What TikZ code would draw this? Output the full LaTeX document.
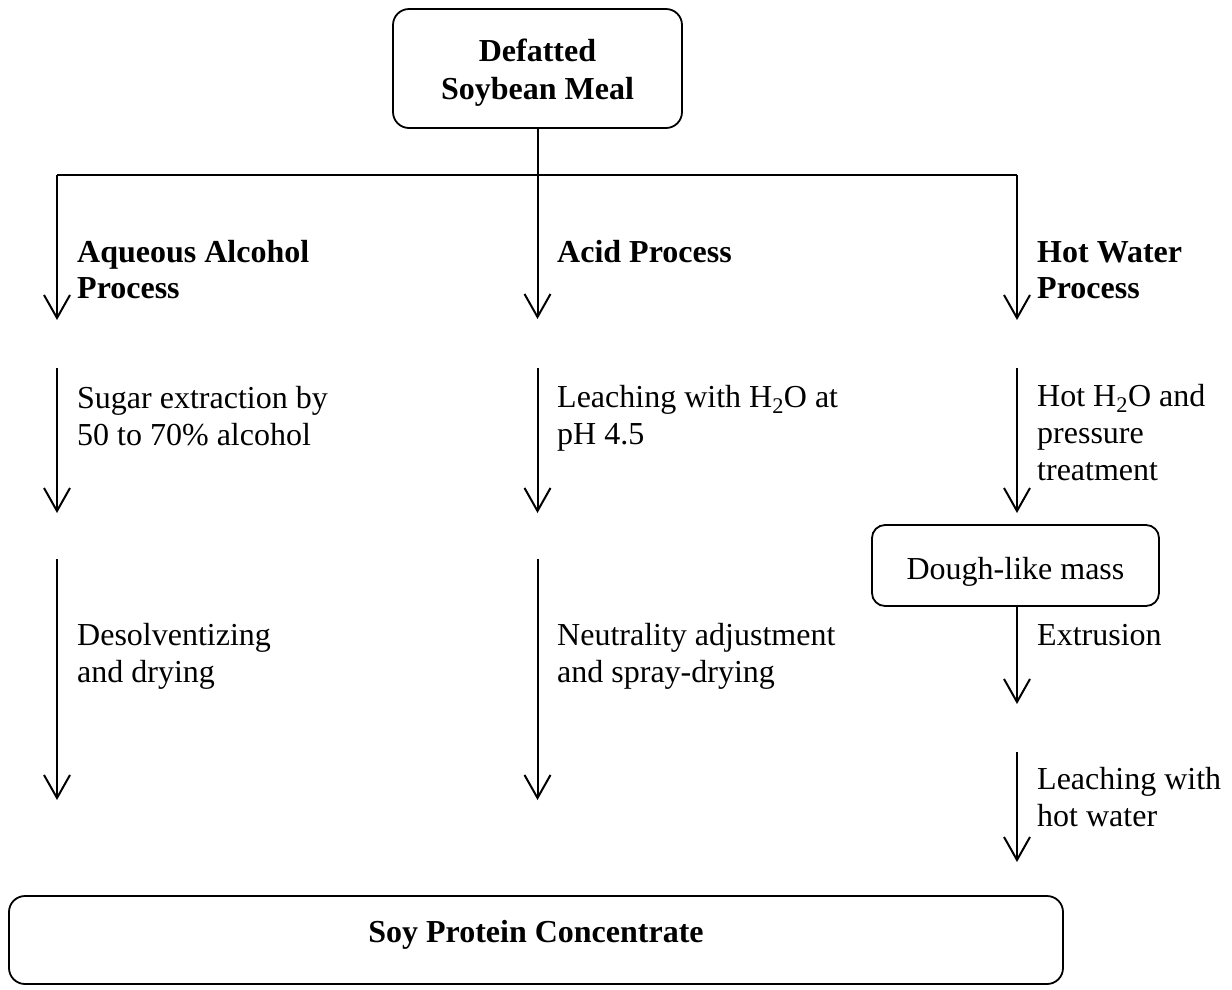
\documentclass[tikz,border=0pt]{standalone}
\usepackage{fontspec}
\setmainfont{Liberation Serif}
\usetikzlibrary{arrows.meta}
\tikzset{
  box/.style={draw=black, line width=1.8pt, rounded corners=16pt, inner sep=0pt, align=center},
  lbl/.style={anchor=base west, inner sep=0pt, align=left, font=\fontsize{32}{37}\selectfont},
  hdr/.style={anchor=base west, inner sep=0pt, align=left, font=\fontsize{32}{35.5}\selectfont\bfseries},
  flow/.style={draw=black, line width=2pt, -{Straight Barb[length=23pt,width=26pt]}},
  link/.style={draw=black, line width=2pt},
}
\begin{document}
\begin{tikzpicture}[x=1pt,y=-1pt]
\useasboundingbox (0,0) rectangle (1232,989);
% boxes
\node[box, minimum width=289pt, minimum height=119pt, text height=68pt, text depth=7pt,
      font=\fontsize{32}{38}\selectfont\bfseries] (top) at (537.5,68.5) {Defatted\\Soybean Meal};
\node[box, rounded corners=13pt, minimum width=287pt, minimum height=81pt, text height=30pt, text depth=3pt,
      font=\fontsize{32}{37}\selectfont] (dough) at (1015.5,565.5) {Dough-like mass};
\node[box, minimum width=1054pt, minimum height=88pt, text height=22pt, text depth=18pt,
      font=\fontsize{32}{37}\selectfont\bfseries] (spc) at (536,940) {Soy Protein Concentrate};
% junction
\coordinate (jL) at (57,175);
\coordinate (jR) at (1017,175);
\coordinate (jM) at (top.south |- jL);
\draw[link] (top.south) -- (jM);
\draw[link] (jL) -- (jR);
% left column
\coordinate (l1) at (57,320);
\coordinate (l2a) at (57,368); \coordinate (l2b) at (57,513);
\coordinate (l3a) at (57,559); \coordinate (l3b) at (57,800);
\draw[flow] (jL) -- (l1);
\draw[flow] (l2a) -- (l2b);
\draw[flow] (l3a) -- (l3b);
% middle column
\coordinate (m1) at (jM |- 0,319);
\coordinate (m2a) at (jM |- 0,368); \coordinate (m2b) at (jM |- 0,513);
\coordinate (m3a) at (jM |- 0,559); \coordinate (m3b) at (jM |- 0,800);
\draw[flow] (jM) -- (m1);
\draw[flow] (m2a) -- (m2b);
\draw[flow] (m3a) -- (m3b);
% right column
\coordinate (r1) at (1017,320);
\coordinate (r2a) at (1017,368); \coordinate (r2b) at (1017,513);
\coordinate (r3) at (1017,704);
\coordinate (r4a) at (1017,752); \coordinate (r4b) at (1017,862);
\draw[flow] (jR) -- (r1);
\draw[flow] (r2a) -- (r2b);
\draw[flow] (dough.south -| r3) -- (r3);
\draw[flow] (r4a) -- (r4b);
% labels (anchor = baseline of last line)
\node[hdr] (hAq) at (77,298) {Aqueous Alcohol\\Process};
\node[hdr] (hAc) at (557,262) {Acid Process};
\node[hdr] (hHw) at (1037,298) {Hot Water\\Process};
\node[lbl] (tSug) at (77,445) {Sugar extraction by\\50 to 70\% alcohol};
\node[lbl] (tDes) at (77,682) {Desolventizing\\and drying};
\node[lbl] (tLea) at (557,444) {Leaching with H\textsubscript{2}O at\\pH 4.5};
\node[lbl] (tNeu) at (557,682) {Neutrality adjustment\\and spray-drying};
\node[lbl] (tHot) at (1037,480) {Hot H\textsubscript{2}O and\\pressure\\treatment};
\node[lbl] (tExt) at (1037,645) {Extrusion};
\node[lbl] (tLhw) at (1037,826) {Leaching with\\hot water};
\end{tikzpicture}
\end{document}
